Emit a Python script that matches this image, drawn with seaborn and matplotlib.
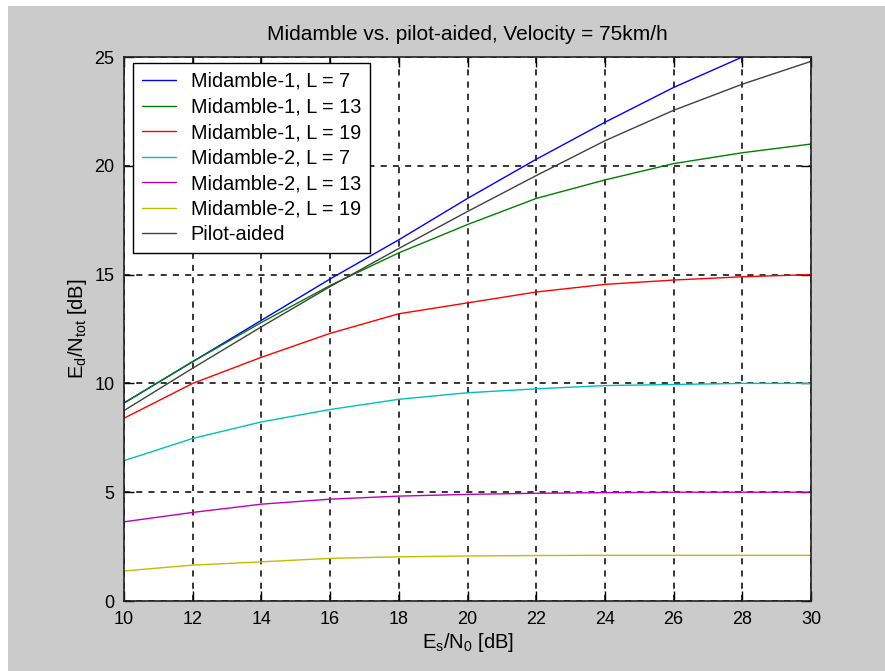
import numpy as np
import pandas as pd
import matplotlib
matplotlib.use("Agg")
import matplotlib.pyplot as plt
from matplotlib.patches import Rectangle
import seaborn as sns

# Es/N0 [dB]
snr = [10, 12, 14, 16, 18, 20, 22, 24, 26, 28, 30]

# Ed/Ntot [dB] per scheme
mid1_l7 = [9.1, 11.0, 12.9, 14.8, 16.6, 18.5, 20.3, 22.0, 23.6, 25.0, 26.4]
mid1_l13 = [9.1, 11.0, 12.8, 14.5, 16.0, 17.3, 18.5, 19.35, 20.1, 20.6, 21.0]
mid1_l19 = [8.4, 10.0, 11.2, 12.3, 13.2, 13.7, 14.2, 14.55, 14.75, 14.9, 15.0]
mid2_l7 = [6.45, 7.47, 8.23, 8.8, 9.27, 9.57, 9.75, 9.9, 9.95, 10.0, 10.0]
mid2_l13 = [3.64, 4.07, 4.45, 4.68, 4.82, 4.9, 4.95, 4.98, 5.0, 5.0, 5.0]
mid2_l19 = [1.38, 1.65, 1.8, 1.96, 2.03, 2.07, 2.09, 2.1, 2.1, 2.1, 2.1]
pilot = [8.75, 10.7, 12.6, 14.45, 16.2, 17.9, 19.55, 21.15, 22.55, 23.75, 24.8]

labels = ["Midamble-1, L = 7", "Midamble-1, L = 13", "Midamble-1, L = 19",
          "Midamble-2, L = 7", "Midamble-2, L = 13", "Midamble-2, L = 19",
          "Pilot-aided"]
series = [mid1_l7, mid1_l13, mid1_l19, mid2_l7, mid2_l13, mid2_l19, pilot]
colors = ["#0000ff", "#008000", "#ff0000", "#00bfbf", "#bf00bf", "#bfbf00", "#404040"]

df = pd.concat([pd.DataFrame({"snr": snr, "val": s, "scheme": lab})
                for lab, s in zip(labels, series)], ignore_index=True)

sns.set_style("white")
plt.rcParams["font.family"] = ["Liberation Sans", "DejaVu Sans"]
plt.rcParams["mathtext.fontset"] = "custom"
plt.rcParams["mathtext.rm"] = "Liberation Sans"
plt.rcParams["mathtext.it"] = "Liberation Sans"
plt.rcParams["text.color"] = "black"
plt.rcParams["axes.labelcolor"] = "black"
plt.rcParams["xtick.color"] = "black"
plt.rcParams["ytick.color"] = "black"

fig = plt.figure(figsize=(8.85, 6.71), dpi=100)
fig.patch.set_facecolor("white")
fig.add_artist(Rectangle((8 / 885, 0), 1, 1 - 6 / 671, transform=fig.transFigure,
                         facecolor="#cbcbcb", edgecolor="none", zorder=-10))
ax = fig.add_axes([124 / 885, 70 / 671, 687 / 885, 544 / 671])
ax.set_facecolor("white")

sns.lineplot(data=df, x="snr", y="val", hue="scheme", hue_order=labels,
             palette=dict(zip(labels, colors)), linewidth=1.0, ax=ax)

ax.set_xlim(10, 30)
ax.set_ylim(0, 25)
ax.set_xticks(range(10, 31, 2))
ax.set_yticks(range(0, 26, 5))
ax.grid(True, color="black", linestyle=(0, (4, 4)), linewidth=1.1)
ax.tick_params(direction="in", length=7, width=1, labelsize=13, pad=7,
               top=True, right=True, bottom=True, left=True)
for sp in ax.spines.values():
    sp.set_color("#222222")
    sp.set_linewidth(1.2)

ax.set_title("Midamble vs. pilot-aided, Velocity = 75km/h", fontsize=15, pad=12)
ax.set_xlabel(r"E$_{\rm s}$/N$_{\rm 0}$ [dB]", fontsize=14.5, labelpad=2)
ax.set_ylabel(r"E$_{\rm d}$/N$_{\rm tot}$ [dB]", fontsize=14.5, labelpad=4)

leg = ax.legend(loc="upper left", bbox_to_anchor=(9 / 687, 1 - 6 / 544),
                borderaxespad=0, fontsize=14.3, fancybox=False, framealpha=1,
                edgecolor="black", handlelength=1.7, labelspacing=0.33,
                borderpad=0.45, handletextpad=0.75)
leg.get_frame().set_linewidth(1.0)

plt.savefig("out.png", dpi=100, facecolor=fig.get_facecolor())
